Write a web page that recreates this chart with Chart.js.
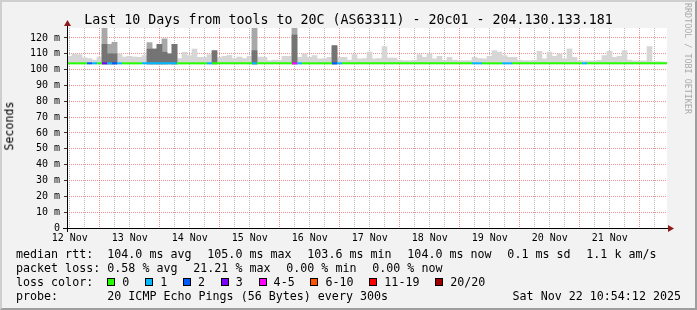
<!DOCTYPE html>
<html>
<head>
<meta charset="utf-8">
<script src="https://cdn.jsdelivr.net/npm/chart.js@4/dist/chart.umd.min.js"></script>
<style>
html, body { margin: 0; padding: 0; background: #f2f2f2; }
#wrap { position: relative; width: 697px; height: 310px; overflow: hidden; background: #f2f2f2;
  font-family: "DejaVu Sans Mono", monospace; color: #000; }
#wrap::after { content: ''; position: absolute; left: 0; top: 0; right: 0; bottom: 0; pointer-events: none;
  border: 2px solid; border-color: #cfcfcf #9e9e9e #9e9e9e #cfcfcf; }
#graph { position: absolute; left: 0; top: 0; }
.t { position: absolute; white-space: pre; line-height: 1; }
#title { left: 0; width: 697px; text-align: center; top: 12.6px; font-size: 13.3px; }
#ylab { left: 10px; top: 126px; font-size: 11.66px; transform: translate(-50%, -50%) rotate(-90deg); }
#mark { left: 684px; top: 3px; font-size: 8.4px; color: #aaa; writing-mode: vertical-rl; }
.row { position: absolute; left: 16px; font-size: 11.66px; line-height: 1; white-space: pre; }
.row span { display: inline-block; }
.row .lab { width: 91.3px; }
.row .it { margin-right: 15.8px; }
.row .box { width: 6px; height: 6px; border: 1px solid #000; margin-right: 7px; vertical-align: -0.5px; }
#date { right: 16px; left: auto; }
</style>
</head>
<body>
<div id="wrap">
  <canvas id="graph" width="697" height="310"></canvas>
  <div class="t" id="title"></div>
  <div class="t" id="ylab">Seconds</div>
  <div class="t" id="mark">RRDTOOL / TOBI OETIKER</div>
  <div id="legend"></div>
</div>
<script>
var title = 'Last 10 Days from tools to 20C (AS63311) - 20c01 - 204.130.133.181';
var dayLabels = ['12 Nov', '13 Nov', '14 Nov', '15 Nov', '16 Nov', '17 Nov', '18 Nov', '19 Nov', '20 Nov', '21 Nov'];
var yTickValues = [0, 5, 10, 15, 20, 25, 30, 35, 40, 45, 50, 55, 60, 65, 70, 75, 80, 85, 90, 95, 100, 105, 110, 115, 120, 125];
var yMax = 126.3;
var noonOffset = 1.0967;  // hours from graph start (Nov 12 10:54:12) to Nov 12 12:00
var binHours = 2;
var smokeBottom = 103.6;

// ms, one value per 2 hour bin
var smokeTop = [
  108.4, 110, 109.5, 107.5, 107, 106, 108, 126.3, 116, 117.3,
  110, 108, 108.4, 108, 107.8, 108.9, 117, 113, 116, 119.4,
  110, 116, 107, 111, 108.9, 113, 107.8, 107.8, 109.5, 112,
  107.8, 108.4, 109, 107, 108, 107, 108.4, 126.3, 108, 107.8,
  105.7, 106, 106, 108.4, 108.4, 126.3, 107.8, 110, 107.8, 108.9,
  106.8, 106.8, 107.8, 115.2, 107.8, 107.8, 106, 109.5, 106.8, 107,
  111.1, 106.8, 107, 114.6, 107.3, 107.3, 106, 105.7, 105.7, 106,
  109.5, 107.8, 110, 106.8, 108.4, 106, 107.8, 106, 105.7, 105.7,
  105.7, 107.8, 107, 106.8, 108.4, 112, 111.1, 108.9, 107.8, 107.8,
  106, 105.7, 105.7, 106, 111.6, 106.8, 111.1, 108.4, 110, 106.8,
  113.1, 107.8, 105.7, 105.5, 105.5, 105.5, 106, 108.9, 111.6, 107.8,
  108.4, 112, 106, 105.5, 105.5, 105.5, 114.6, 105, 105, 104.8
];
var smokeMid = [
  null, null, null, null, null, null, null, 126.3, 116, 117.3,
  null, null, null, null, null, null, 117, 113, 116, 119.4,
  null, 116, null, null, null, null, null, null, null, null,
  null, null, null, null, null, null, null, 126.3, null, null,
  null, null, null, null, null, 126.3, null, null, null, null,
  null, null, null, 114.3, null, null, null, null, null, null,
  null, null, null, null, null, null, null, null, null, null,
  null, null, null, null, null, null, null, null, null, null,
  null, null, null, null, null, null, null, null, null, null,
  null, null, null, null, null, null, null, null, null, null,
  null, null, null, null, null, null, null, null, null, null,
  null, null, null, null, null, null, null, null, null, null
];
var smokeDark = [
  null, null, null, null, null, null, null, 116, 110, 110,
  null, null, null, null, null, null, 113, 113, 116, 111,
  110, 116, null, null, null, null, null, null, null, 112,
  null, null, null, null, null, null, null, 112, null, null,
  null, null, null, null, null, 121.9, null, null, null, null,
  null, null, null, 115.2, null, null, null, null, null, null,
  null, null, null, null, null, null, null, null, null, null,
  null, null, null, null, null, null, null, null, null, null,
  null, null, null, null, null, null, null, null, null, null,
  null, null, null, null, null, null, null, null, null, null,
  null, null, null, null, null, null, null, null, null, null,
  null, null, null, null, null, null, null, null, null, null
];
var medianRtt = [
  104, 104, 104, 104, 104, 104, 104, 104, 104, 104,
  104, 104, 104, 104, 104, 104, 104, 104, 104, 104,
  104, 104, 104, 104, 104, 104, 104, 104, 104, 104,
  104, 104, 104, 104, 104, 104, 104, 104, 104, 104,
  104, 104, 104, 104, 104, 104, 104, 104, 104, 104,
  104, 104, 104, 104, 104, 104, 104, 104, 104, 104,
  104, 104, 104, 104, 104, 104, 104, 104, 104, 104,
  104, 104, 104, 104, 104, 104, 104, 104, 104, 104,
  104, 104, 104, 104, 104, 104, 104, 104, 104, 104,
  104, 104, 104, 104, 104, 104, 104, 104, 104, 104,
  104, 104, 104, 104, 104, 104, 104, 104, 104, 104,
  104, 104, 104, 104, 104, 104, 104, 104, 104, 104
];
// lost pings out of 20 per bin
var lossCount = [
  0, 0, 0, 0, 2, 1, 0, 3, 1, 2,
  1, 0, 0, 0, 0, 1, 1, 1, 1, 1,
  1, 1, 0, 0, 0, 0, 0, 0, 1, 0,
  0, 0, 0, 0, 0, 0, 0, 1, 0, 0,
  0, 0, 0, 0, 0, 4, 1, 0, 0, 0,
  0, 0, 0, 2, 1, 0, 0, 0, 0, 0,
  0, 0, 0, 0, 0, 0, 0, 0, 0, 0,
  0, 0, 0, 0, 0, 0, 0, 0, 0, 0,
  0, 1, 1, 0, 0, 0, 0, 1, 1, 0,
  0, 0, 0, 0, 0, 0, 0, 0, 0, 0,
  0, 0, 0, 1, 0, 0, 0, 0, 0, 0,
  0, 0, 0, 0, 0, 0, 0, 0, 0, 0
];
var lossLabels = ['0', '1', '2', '3', '4-5', '6-10', '11-19', '20/20'];
var lossColors = ['#26ff00', '#00b8ff', '#0059ff', '#7e00ff', '#ff00ff', '#ff5500', '#ff0000', '#a10000'];
var lossLimits = [0, 1, 2, 3, 5, 10, 19, 20];
var medianStats = ['104.0 ms avg', '105.0 ms max', '103.6 ms min', '104.0 ms now', '0.1 ms sd', '1.1 k am/s'];
var lossStats = ['0.58 % avg', '21.21 % max', '0.00 % min', '0.00 % now'];
var probeText = '20 ICMP Echo Pings (56 Bytes) every 300s';
var dateText = 'Sat Nov 22 10:54:12 2025';

var gridGrey = 'rgba(130,130,130,0.55)';
var gridRed = 'rgba(235,70,70,0.6)';

function lossColor(n) {
  for (var i = 0; i < lossLimits.length; i++) {
    if (n <= lossLimits[i]) return lossColors[i];
  }
  return lossColors[lossColors.length - 1];
}

function smokeBars(tops) {
  var out = [];
  for (var i = 0; i < tops.length; i++) {
    if (tops[i] !== null) out.push({ x: i * binHours + binHours / 2, y: [smokeBottom, tops[i]] });
  }
  return out;
}

var medianLine = [];
for (var i = 0; i < medianRtt.length; i++) {
  medianLine.push({ x: i * binHours, y: medianRtt[i] });
}
medianLine.push({ x: medianRtt.length * binHours, y: medianRtt[medianRtt.length - 1] });

var gridHours = [];
for (var k = 0; noonOffset + 6 * k < 240; k++) {
  gridHours.push(noonOffset + 6 * k);
}

// text parts
document.getElementById('title').textContent = title;
function row(top, label) {
  var d = document.createElement('div');
  d.className = 'row';
  d.style.top = top + 'px';
  var l = document.createElement('span');
  l.className = 'lab';
  l.textContent = label;
  d.appendChild(l);
  document.getElementById('legend').appendChild(d);
  return d;
}
function item(parent, text) {
  var s = document.createElement('span');
  s.className = 'it';
  s.textContent = text;
  parent.appendChild(s);
}
var r1 = row(248.9, 'median rtt:');
medianStats.forEach(function (s) { item(r1, s); });
var r2 = row(262.9, 'packet loss:');
lossStats.forEach(function (s) { item(r2, s); });
var r3 = row(276.9, 'loss color:');
lossLabels.forEach(function (s, i) {
  var b = document.createElement('span');
  b.className = 'box';
  b.style.background = lossColors[i];
  r3.appendChild(b);
  item(r3, s);
});
var r4 = row(290.9, 'probe:');
item(r4, probeText);
var dt = document.createElement('div');
dt.className = 'row';
dt.id = 'date';
dt.style.top = '290.9px';
dt.textContent = dateText;
document.getElementById('legend').appendChild(dt);

var decor = {
  id: 'decor',
  beforeDraw: function (chart) {
    var ctx = chart.ctx, a = chart.chartArea;
    ctx.save();
    ctx.fillStyle = '#ffffff';
    ctx.fillRect(a.left, a.top, a.right - a.left, a.bottom - a.top);
    ctx.restore();
  },
  afterDraw: function (chart) {
    var ctx = chart.ctx, a = chart.chartArea;
    ctx.save();
    ctx.strokeStyle = '#000';
    ctx.lineWidth = 1;
    ctx.beginPath();
    ctx.moveTo(a.left - 4, a.bottom + 0.5);
    ctx.lineTo(a.right + 2, a.bottom + 0.5);
    ctx.moveTo(a.left + 0.5, a.bottom + 4);
    ctx.lineTo(a.left + 0.5, a.top - 4);
    ctx.stroke();
    ctx.fillStyle = '#8c1c1c';
    ctx.beginPath();
    ctx.moveTo(a.left + 0.5, a.top - 8);
    ctx.lineTo(a.left - 3, a.top - 2);
    ctx.lineTo(a.left + 4, a.top - 2);
    ctx.closePath();
    ctx.fill();
    ctx.beginPath();
    ctx.moveTo(a.right + 7, a.bottom + 0.5);
    ctx.lineTo(a.right + 1, a.bottom - 3);
    ctx.lineTo(a.right + 1, a.bottom + 4);
    ctx.closePath();
    ctx.fill();
    ctx.restore();
  }
};

var tickFont = { family: 'DejaVu Sans Mono', size: 10 };

new Chart(document.getElementById('graph').getContext('2d'), {
  type: 'bar',
  data: {
    datasets: [
      {
        type: 'line', data: medianLine, order: 0, borderWidth: 2, pointRadius: 0, stepped: true,
        borderColor: lossColors[0],
        segment: { borderColor: function (s) { return lossColor(lossCount[s.p0DataIndex]); } }
      },
      { data: smokeBars(smokeDark), backgroundColor: '#747474', order: 1 },
      { data: smokeBars(smokeMid), backgroundColor: '#a8a8a8', order: 2 },
      { data: smokeBars(smokeTop), backgroundColor: '#d6d6d6', order: 3 }
    ]
  },
  options: {
    responsive: false,
    animation: false,
    events: [],
    layout: { padding: { left: 0, right: 30, top: 28, bottom: 62 } },
    plugins: { legend: { display: false }, tooltip: { enabled: false } },
    datasets: { bar: { grouped: false, barPercentage: 1, categoryPercentage: 1 } },
    scales: {
      x: {
        type: 'linear', min: 0, max: 240, offset: false,
        afterBuildTicks: function (scale) {
          scale.ticks = gridHours.map(function (v) { return { value: v }; });
        },
        afterFit: function (scale) { scale.height = 20; },
        grid: {
          offset: false, drawTicks: false, lineWidth: 1,
          color: function (c) { return c.index % 4 === 2 ? gridRed : gridGrey; }
        },
        border: { display: false, dash: [1, 1] },
        ticks: {
          autoSkip: false, maxRotation: 0, minRotation: 0, padding: 4, color: '#000', font: tickFont,
          callback: function (v, i) { return i % 4 === 0 ? dayLabels[i / 4] : ''; }
        }
      },
      y: {
        min: 0, max: yMax,
        afterBuildTicks: function (scale) {
          scale.ticks = yTickValues.map(function (v) { return { value: v }; });
        },
        afterFit: function (scale) { scale.width = 67; },
        grid: {
          drawTicks: true, tickLength: 3, lineWidth: 1,
          color: function (c) {
            var v = c.tick ? c.tick.value : 0;
            if (v === 0) return 'rgba(0,0,0,0)';
            return v % 10 === 0 ? gridRed : gridGrey;
          },
          tickColor: function (c) {
            var v = c.tick ? c.tick.value : 0;
            return v % 10 === 0 ? '#333' : 'rgba(0,0,0,0)';
          }
        },
        border: { display: false, dash: [1, 1] },
        ticks: {
          padding: 4, color: '#000', font: tickFont,
          callback: function (v) {
            if (v % 10 !== 0) return '';
            return v === 0 ? '0' : v + ' m';
          }
        }
      }
    }
  },
  plugins: [decor]
});
</script>
</body>
</html>
